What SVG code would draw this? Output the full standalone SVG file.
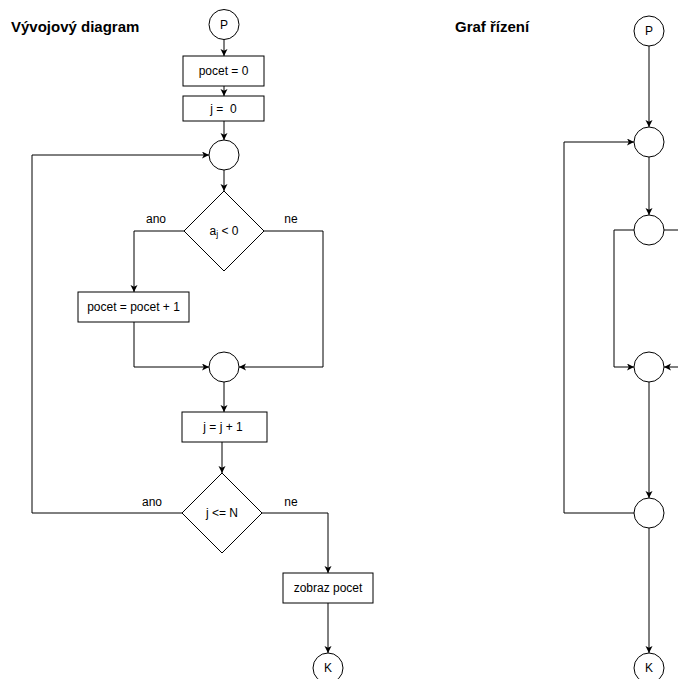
<svg xmlns="http://www.w3.org/2000/svg" width="678" height="679" viewBox="0 0 678 679">
<style>
.t{font-family:"Liberation Sans",Arial,sans-serif;font-size:12px;fill:#000;text-anchor:middle;dominant-baseline:central}
.title{font-family:"Liberation Sans",Arial,sans-serif;font-size:15px;font-weight:bold;fill:#000}
.s{fill:#fff;stroke:#000;stroke-width:1}
.c{fill:none;stroke:#000;stroke-width:1;marker-end:url(#ah)}
.cn{fill:none;stroke:#000;stroke-width:1}
</style>
<defs>
<marker id="ah" markerUnits="userSpaceOnUse" markerWidth="10" markerHeight="10" refX="7" refY="3.5" orient="auto">
<path d="M0,0 L7,3.5 L0,7 L1.8,3.5 Z" fill="#000"/>
</marker>
</defs>
<rect width="678" height="679" fill="#fff"/>
<text class="title" x="11" y="32">Vývojový diagram</text>
<text class="title" x="455" y="32">Graf řízení</text>
<g id="connectors">
<path class="c" d="M224,39 V56"/>
<path class="c" d="M224,86 V96"/>
<path class="c" d="M224,121 V140"/>
<path class="c" d="M224,170 V191"/>
<path class="c" d="M184,231 H134 V292"/>
<path class="c" d="M264,231 H323 V367 H239"/>
<path class="c" d="M134,322 V367 H209"/>
<path class="c" d="M224,382 V412"/>
<path class="c" d="M222,442 V473"/>
<path class="c" d="M182,513 H32 V155 H209"/>
<path class="c" d="M262,513 H328 V573"/>
<path class="c" d="M328,603 V653"/>
<path class="c" d="M649,46 V127"/>
<path class="c" d="M634,513 H564 V142 H634"/>
<path class="c" d="M649,157 V215"/>
<path class="c" d="M634,230 H614 V367 H634"/>
<path class="c" d="M664,230 H690 V367 H664"/>
<path class="c" d="M649,382 V498"/>
<path class="c" d="M649,528 V653"/>
<text class="t" x="156" y="219">ano</text>
<text class="t" x="291" y="219">ne</text>
<text class="t" x="152" y="502">ano</text>
<text class="t" x="291" y="502">ne</text>
</g>
<g id="P1"><circle class="s" cx="224" cy="24.5" r="15"/><text class="t" x="224" y="24.5">P</text></g>
<g id="init1"><rect class="s" x="183" y="56" width="81" height="30"/><text class="t" x="223.5" y="71">pocet = 0</text></g>
<g id="init2"><rect class="s" x="183" y="96" width="81" height="25"/><text class="t" x="223.5" y="108.5" xml:space="preserve">j =  0</text></g>
<g id="merge1"><circle class="s" cx="224" cy="155" r="15"/></g>
<g id="cond1"><polygon class="s" points="224,191 264,231 224,271 184,231"/><text class="t" x="224" y="231">a<tspan font-size="9" dy="3">j</tspan><tspan dy="-3"> &lt; 0</tspan></text></g>
<g id="inc1"><rect class="s" x="78" y="292" width="111" height="30"/><text class="t" x="133.5" y="307">pocet = pocet + 1</text></g>
<g id="merge2"><circle class="s" cx="224" cy="367" r="15"/></g>
<g id="incj"><rect class="s" x="182" y="412" width="85" height="30"/><text class="t" x="223" y="427">j = j + 1</text></g>
<g id="cond2"><polygon class="s" points="222,473 262,513 222,553 182,513"/><text class="t" x="222" y="513">j &lt;= N</text></g>
<g id="show"><rect class="s" x="283" y="573" width="90" height="30"/><text class="t" x="328" y="588">zobraz pocet</text></g>
<g id="K1"><circle class="s" cx="328" cy="668" r="15"/><text class="t" x="328" y="668">K</text></g>
<g id="P2"><circle class="s" cx="649" cy="31" r="15"/><text class="t" x="649" y="31">P</text></g>
<g id="gA"><circle class="s" cx="649" cy="142" r="15"/></g>
<g id="gB"><circle class="s" cx="649" cy="230" r="15"/></g>
<g id="gC"><circle class="s" cx="649" cy="367" r="15"/></g>
<g id="gD"><circle class="s" cx="649" cy="513" r="15"/></g>
<g id="K2"><circle class="s" cx="649" cy="668" r="15"/><text class="t" x="649" y="668">K</text></g>
</svg>
